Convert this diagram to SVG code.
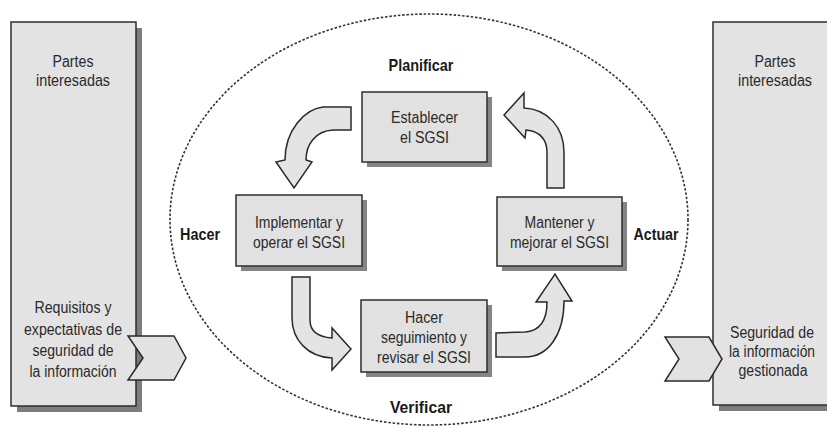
<svg xmlns="http://www.w3.org/2000/svg" width="827" height="429" viewBox="0 0 827 429">
<style>
  .bg{fill:#ffffff}
  .panel{fill:#e3e3e3;stroke:#2e2e2e;stroke-width:1.5}
  .pshadow{fill:#7d7d7d}
  .box{fill:#e1e1e1;stroke:#2e2e2e;stroke-width:1.5}
  .bshadow{fill:#858585}
  .arrow{fill:#e4e4e4;stroke:#2a2a2a;stroke-width:1.5;stroke-linejoin:miter}
  .chev{fill:#e2e2e2;stroke:#2a2a2a;stroke-width:1.5}
  .ell{fill:none;stroke:#333;stroke-width:1.6;stroke-dasharray:2.5 1.8}
  .t{font-family:"Liberation Sans",Arial,sans-serif;font-size:16px;fill:#2a2a2a;text-anchor:middle}
  .b{font-family:"Liberation Sans",Arial,sans-serif;font-size:17px;font-weight:bold;fill:#1a1a1a;text-anchor:middle}
</style>
<rect class="bg" x="0" y="0" width="827" height="429"/>

<ellipse class="ell" cx="429" cy="219.5" rx="259" ry="205.5"/>

<g id="panel-left">
  <rect class="pshadow" x="17" y="28" width="125" height="384"/>
  <rect class="panel" x="11" y="22" width="125" height="384"/>
  <text class="t" x="73" y="67" textLength="41" lengthAdjust="spacingAndGlyphs">Partes</text>
  <text class="t" x="73" y="86" textLength="74" lengthAdjust="spacingAndGlyphs">interesadas</text>
  <text class="t" x="73" y="313" textLength="77" lengthAdjust="spacingAndGlyphs">Requisitos y</text>
  <text class="t" x="73" y="335" textLength="98" lengthAdjust="spacingAndGlyphs">expectativas de</text>
  <text class="t" x="73" y="356" textLength="81" lengthAdjust="spacingAndGlyphs">seguridad de</text>
  <text class="t" x="73" y="377" textLength="87" lengthAdjust="spacingAndGlyphs">la información</text>
</g>

<g id="panel-right">
  <rect class="pshadow" x="719" y="28" width="120" height="383"/>
  <rect class="panel" x="713" y="22" width="120" height="383"/>
  <text class="t" x="775" y="67" textLength="41" lengthAdjust="spacingAndGlyphs">Partes</text>
  <text class="t" x="775" y="86" textLength="74" lengthAdjust="spacingAndGlyphs">interesadas</text>
  <text class="t" x="772" y="338" textLength="84" lengthAdjust="spacingAndGlyphs">Seguridad de</text>
  <text class="t" x="772" y="357" textLength="86" lengthAdjust="spacingAndGlyphs">la información</text>
  <text class="t" x="773" y="376" textLength="69" lengthAdjust="spacingAndGlyphs">gestionada</text>
</g>

<g id="node-establecer">
  <rect class="bshadow" x="367" y="97" width="125" height="70"/>
  <rect class="box" x="362" y="92" width="125" height="70"/>
  <text class="t" x="424.5" y="123" textLength="67" lengthAdjust="spacingAndGlyphs">Establecer</text>
  <text class="t" x="424.5" y="143" textLength="49" lengthAdjust="spacingAndGlyphs">el SGSI</text>
</g>

<g id="node-implementar">
  <rect class="bshadow" x="241" y="200" width="126" height="71"/>
  <rect class="box" x="236" y="195" width="126" height="71"/>
  <text class="t" x="299" y="228" textLength="88" lengthAdjust="spacingAndGlyphs">Implementar y</text>
  <text class="t" x="299" y="248" textLength="92" lengthAdjust="spacingAndGlyphs">operar el SGSI</text>
</g>

<g id="node-mantener">
  <rect class="bshadow" x="502" y="202" width="125" height="69"/>
  <rect class="box" x="497" y="197" width="125" height="69"/>
  <text class="t" x="559.5" y="228" textLength="70" lengthAdjust="spacingAndGlyphs">Mantener y</text>
  <text class="t" x="559.5" y="248" textLength="99" lengthAdjust="spacingAndGlyphs">mejorar el SGSI</text>
</g>

<g id="node-seguimiento">
  <rect class="bshadow" x="366" y="305" width="126" height="72"/>
  <rect class="box" x="361" y="300" width="126" height="72"/>
  <text class="t" x="424" y="323" textLength="38" lengthAdjust="spacingAndGlyphs">Hacer</text>
  <text class="t" x="424" y="343" textLength="86" lengthAdjust="spacingAndGlyphs">seguimiento y</text>
  <text class="t" x="424" y="363" textLength="94" lengthAdjust="spacingAndGlyphs">revisar el SGSI</text>
</g>

<g id="labels">
  <text class="b" x="421" y="71" textLength="65" lengthAdjust="spacingAndGlyphs">Planificar</text>
  <text class="b" x="200" y="240" textLength="40" lengthAdjust="spacingAndGlyphs">Hacer</text>
  <text class="b" x="656" y="240" textLength="45" lengthAdjust="spacingAndGlyphs">Actuar</text>
  <text class="b" x="421" y="413" textLength="62" lengthAdjust="spacingAndGlyphs">Verificar</text>
</g>

<g id="connectors">
  <path class="arrow" d="M351,107 L323,107 C305,109 285,130 285,160 L276,162 L294,188 L312,162 L306,160 C306,145 315,131 333,130 L351,130 Z"/>
  <path class="arrow" d="M292,277 L310,277 L310,320 C310,331 318,337 332,338 L332,328 L351,349 L332,370 L332,358 C308,357 292,340 292,318 Z"/>
  <path class="arrow" d="M496,333 L525,332 C540,331 547,320 547,302 L536,302 L555,274 L572,301 L564,301 C564,335 548,357 525,357 L496,357 Z"/>
  <path class="arrow" d="M547,188 L547,152 C547,140 540,131 526,130 L525,138 L504,115 L524,93 L524,108 C548,109 564,128 564,152 L564,188 Z"/>
  <polygon class="chev" points="128,336 174,336 186,358 174,380 128,380 143,358"/>
  <polygon class="chev" points="665,337 709,337 722,359 709,381 665,381 679,359"/>
</g>
</svg>
